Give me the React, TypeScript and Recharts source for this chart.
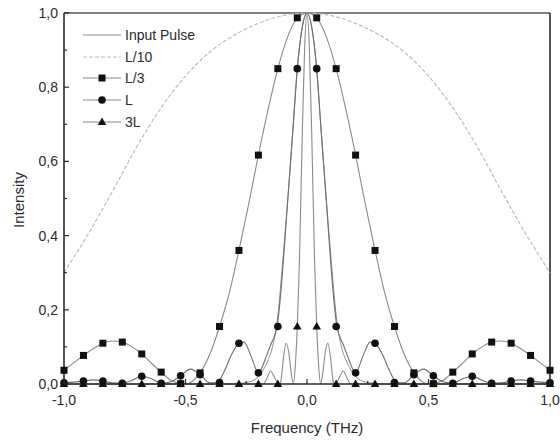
import { ComposedChart, Line, XAxis, YAxis, ReferenceLine } from 'recharts';

// axis ticks (major ones get labels)
const xTicks = [-1, -0.75, -0.5, -0.25, 0, 0.25, 0.5, 0.75, 1];
const yTicks = [0, 0.1, 0.2, 0.3, 0.4, 0.5, 0.6, 0.7, 0.8, 0.9, 1];

// marker positions (every 0.08 THz)
const markerFreq = [
  -1, -0.92, -0.84, -0.76, -0.68, -0.6, -0.52, -0.44, -0.36, -0.28, -0.2, -0.12, -0.04,
  0.04, 0.12, 0.2, 0.28, 0.36, 0.44, 0.52, 0.6, 0.68, 0.76, 0.84, 0.92, 1,
];
const thirdMarks = [
  0.037, 0.077, 0.11, 0.113, 0.081, 0.032, 0.001, 0.03, 0.155, 0.36, 0.617, 0.85, 0.987,
  0.987, 0.85, 0.617, 0.36, 0.155, 0.03, 0.001, 0.032, 0.081, 0.113, 0.11, 0.077, 0.037,
];
const lMarks = [
  0.003, 0.008, 0.008, 0.002, 0.021, 0.002, 0.022, 0.025, 0.004, 0.11, 0.03, 0.155, 0.85,
  0.85, 0.155, 0.03, 0.11, 0.004, 0.025, 0.022, 0.002, 0.021, 0.002, 0.008, 0.008, 0.003,
];
const tripleMarks = [
  0, 0, 0, 0, 0, 0, 0, 0, 0, 0, 0, 0, 0.155,
  0.155, 0, 0, 0, 0, 0, 0, 0, 0, 0, 0, 0, 0,
];

// Input Pulse
const pulseFreq = [
  -1, -0.5, -0.3, -0.26, -0.22, -0.2, -0.18, -0.16, -0.14, -0.12, -0.1, -0.08, -0.058, -0.04, -0.02,
  0, 0.02, 0.04, 0.058, 0.08, 0.1, 0.12, 0.14, 0.16, 0.18, 0.2, 0.22, 0.26, 0.3, 0.5, 1,
];
const pulseVals = [
  0, 0, 0, 0.003, 0.01, 0.02, 0.038, 0.065, 0.105, 0.185, 0.33, 0.49, 0.685, 0.845, 0.96,
  1, 0.96, 0.845, 0.685, 0.49, 0.33, 0.185, 0.105, 0.065, 0.038, 0.02, 0.01, 0.003, 0, 0, 0,
];

// L/10
const tenthFreq = [-1, -0.9, -0.8, -0.7, -0.6, -0.5, -0.4, -0.3, -0.2, -0.1, 0, 0.1, 0.2, 0.3, 0.4, 0.5, 0.6, 0.7, 0.8, 0.9, 1];
const tenthVals = [
  0.3, 0.405, 0.52, 0.64, 0.745, 0.83, 0.895, 0.94, 0.972, 0.993,
  1, 0.993, 0.972, 0.94, 0.895, 0.83, 0.745, 0.64, 0.52, 0.405, 0.3,
];

// L/3
const thirdFreq = [
  -1, -0.96, -0.92, -0.88, -0.84, -0.8, -0.76, -0.72, -0.68, -0.64, -0.6, -0.56, -0.52, -0.5, -0.47,
  -0.44, -0.4, -0.36, -0.32, -0.28, -0.24, -0.2, -0.16, -0.12, -0.08, -0.04,
  0, 0.04, 0.08, 0.12, 0.16, 0.2, 0.24, 0.28, 0.32, 0.36, 0.4, 0.44,
  0.47, 0.5, 0.52, 0.56, 0.6, 0.64, 0.68, 0.72, 0.76, 0.8, 0.84, 0.88, 0.92, 0.96, 1,
];
const thirdVals = [
  0.037, 0.057, 0.077, 0.095, 0.11, 0.116, 0.113, 0.1, 0.081, 0.056, 0.032, 0.01, 0.001, 0, 0.008,
  0.03, 0.08, 0.155, 0.245, 0.36, 0.485, 0.617, 0.74, 0.85, 0.935, 0.987,
  1, 0.987, 0.935, 0.85, 0.74, 0.617, 0.485, 0.36, 0.245, 0.155, 0.08, 0.03,
  0.008, 0, 0.001, 0.01, 0.032, 0.056, 0.081, 0.1, 0.113, 0.116, 0.11, 0.095, 0.077, 0.057, 0.037,
];

// L
const lFreq = [
  -1, -0.96, -0.92, -0.88, -0.84, -0.8, -0.76, -0.72, -0.68, -0.64, -0.6, -0.56, -0.52, -0.48, -0.44,
  -0.4, -0.37, -0.34, -0.31, -0.28, -0.26, -0.23, -0.2, -0.17, -0.15, -0.123, -0.11, -0.097, -0.08,
  -0.058, -0.04, -0.02,
  0, 0.02, 0.04, 0.058, 0.08, 0.097, 0.11, 0.123, 0.15, 0.17, 0.2, 0.23, 0.26, 0.28, 0.31, 0.34, 0.37,
  0.4, 0.44, 0.48, 0.52, 0.56, 0.6, 0.64, 0.68, 0.72, 0.76, 0.8, 0.84, 0.88, 0.92, 0.96, 1,
];
const lVals = [
  0.003, 0.005, 0.008, 0.011, 0.008, 0.003, 0.002, 0.01, 0.021, 0.014, 0.002, 0.006, 0.022, 0.04, 0.025,
  0.003, 0.004, 0.035, 0.08, 0.11, 0.113, 0.075, 0.03, 0.07, 0.105, 0.155, 0.23, 0.334, 0.49,
  0.685, 0.85, 0.96,
  1, 0.96, 0.85, 0.685, 0.49, 0.334, 0.23, 0.155, 0.105, 0.07, 0.03, 0.075, 0.113, 0.11, 0.08, 0.035, 0.004,
  0.003, 0.025, 0.04, 0.022, 0.006, 0.002, 0.014, 0.021, 0.01, 0.002, 0.003, 0.008, 0.011, 0.008, 0.005, 0.003,
];

// 3L
const tripleFreq = [
  -1, -0.2, -0.18, -0.165, -0.15, -0.135, -0.12, -0.11, -0.105, -0.097, -0.086, -0.075, -0.065, -0.056,
  -0.048, -0.04, -0.031, -0.02, -0.01,
  0, 0.01, 0.02, 0.031, 0.04, 0.048, 0.056, 0.065, 0.075, 0.086, 0.097, 0.105, 0.11, 0.12, 0.135,
  0.15, 0.165, 0.18, 0.2, 1,
];
const tripleVals = [
  0, 0, 0, 0.015, 0.035, 0.02, 0.002, 0, 0.02, 0.07, 0.11, 0.085, 0.03, 0,
  0.05, 0.155, 0.334, 0.66, 0.9,
  1, 0.9, 0.66, 0.334, 0.155, 0.05, 0, 0.03, 0.085, 0.11, 0.07, 0.02, 0, 0.002, 0.02,
  0.035, 0.015, 0, 0, 0,
];

const pts = (xs: number[], ys: number[]) => xs.map((x, i) => ({ x, y: ys[i] }));

const FONT = '"Liberation Sans", Arial, sans-serif';
const INK = '#2b2b2b';
const fmt = (v: number) => v.toFixed(1).replace('.', ',');

const squareDot = (p: any) => (
  <rect key={`sq-${p.index}`} x={p.cx - 3.5} y={p.cy - 3.5} width={7} height={7} fill="#111" />
);
const circleDot = (p: any) => <circle key={`ci-${p.index}`} cx={p.cx} cy={p.cy} r={3.8} fill="#111" />;
const triangleDot = (p: any) => (
  <path
    key={`tr-${p.index}`}
    d={`M${p.cx},${p.cy - 4.5} L${p.cx + 4.3},${p.cy + 3} L${p.cx - 4.3},${p.cy + 3} Z`}
    fill="#111"
  />
);

function YTick({ x, y, payload }: any) {
  const v = payload.value as number;
  const major = Math.round(v * 10) % 2 === 0;
  const ax = x + 6;
  return (
    <g>
      <line x1={ax} x2={ax + (major ? 5 : 3)} y1={y} y2={y} stroke={INK} strokeWidth={1.2} />
      {major && (
        <text x={x} y={y + 5} textAnchor="end" fontSize={14} fontFamily={FONT} fill={INK}>
          {fmt(v)}
        </text>
      )}
    </g>
  );
}

function XTick({ x, y, payload }: any) {
  const v = payload.value as number;
  const major = Math.round(v * 4) % 2 === 0;
  const ay = y - 8;
  return (
    <g>
      <line x1={x} x2={x} y1={ay} y2={ay - (major ? 5 : 3)} stroke={INK} strokeWidth={1.2} />
      {major && (
        <text x={x} y={ay + 21} textAnchor="middle" fontSize={14} fontFamily={FONT} fill={INK}>
          {fmt(v)}
        </text>
      )}
    </g>
  );
}

const legendItems = [
  { name: 'Input Pulse', stroke: '#8a8a8a', dash: undefined, mark: null },
  { name: 'L/10', stroke: '#bdbdbd', dash: '4 2', mark: null },
  { name: 'L/3', stroke: '#8a8a8a', dash: undefined, mark: 'square' },
  { name: 'L', stroke: '#8a8a8a', dash: undefined, mark: 'circle' },
  { name: '3L', stroke: '#8a8a8a', dash: undefined, mark: 'triangle' },
];

function LegendBox() {
  return (
    <div style={{ position: 'absolute', left: 82, top: 24 }}>
      {legendItems.map((it) => (
        <div key={it.name} style={{ display: 'flex', alignItems: 'center', height: 21.8 }}>
          <svg width={42} height={12}>
            <line x1={1} x2={39} y1={6} y2={6} stroke={it.stroke} strokeWidth={1.2} strokeDasharray={it.dash} />
            {it.mark === 'square' && <rect x={16.5} y={2.5} width={7} height={7} fill="#111" />}
            {it.mark === 'circle' && <circle cx={20} cy={6} r={3.8} fill="#111" />}
            {it.mark === 'triangle' && <path d="M20,1.5 L24.3,9 L15.7,9 Z" fill="#111" />}
          </svg>
          <span style={{ fontFamily: FONT, fontSize: 14, color: INK, marginLeft: 1 }}>{it.name}</span>
        </div>
      ))}
    </div>
  );
}

export default function App() {
  return (
    <div style={{ position: 'absolute', left: 0, top: 0, width: 560, height: 441, background: '#fff' }}>
      <ComposedChart width={560} height={441} margin={{ top: 13, right: 10, bottom: 17, left: 14 }}>
        <XAxis
          dataKey="x"
          type="number"
          domain={[-1, 1]}
          ticks={xTicks}
          interval={0}
          height={40}
          tickSize={0}
          tickMargin={8}
          tick={<XTick />}
          axisLine={{ stroke: INK, strokeWidth: 1.6 }}
        />
        <YAxis
          type="number"
          domain={[0, 1]}
          ticks={yTicks}
          interval={0}
          width={50}
          tickSize={0}
          tickMargin={6}
          tick={<YTick />}
          axisLine={{ stroke: INK, strokeWidth: 1.6 }}
        />
        <ReferenceLine y={1} stroke="#555" strokeWidth={1.6} />
        <ReferenceLine x={1} stroke={INK} strokeWidth={1.6} />
        <Line data={pts(pulseFreq, pulseVals)} dataKey="y" type="monotone" stroke="#8f8f8f" strokeWidth={1} dot={false} activeDot={false} isAnimationActive={false} />
        <Line data={pts(tenthFreq, tenthVals)} dataKey="y" type="monotone" stroke="#bdbdbd" strokeWidth={1.2} strokeDasharray="4 2" dot={false} activeDot={false} isAnimationActive={false} />
        <Line data={pts(thirdFreq, thirdVals)} dataKey="y" type="monotone" stroke="#8a8a8a" strokeWidth={1.1} dot={false} activeDot={false} isAnimationActive={false} />
        <Line data={pts(lFreq, lVals)} dataKey="y" type="monotone" stroke="#6e6e6e" strokeWidth={1.1} dot={false} activeDot={false} isAnimationActive={false} />
        <Line data={pts(tripleFreq, tripleVals)} dataKey="y" type="monotone" stroke="#8a8a8a" strokeWidth={1.1} dot={false} activeDot={false} isAnimationActive={false} />
        <Line data={pts(markerFreq, thirdMarks)} dataKey="y" stroke="none" dot={squareDot} activeDot={false} isAnimationActive={false} />
        <Line data={pts(markerFreq, lMarks)} dataKey="y" stroke="none" dot={circleDot} activeDot={false} isAnimationActive={false} />
        <Line data={pts(markerFreq, tripleMarks)} dataKey="y" stroke="none" dot={triangleDot} activeDot={false} isAnimationActive={false} />
      </ComposedChart>
      <LegendBox />
      <div
        style={{
          position: 'absolute',
          left: 18,
          top: 200,
          transform: 'translate(-50%, -50%) rotate(-90deg)',
          fontFamily: FONT,
          fontSize: 15,
          color: INK,
          whiteSpace: 'nowrap',
        }}
      >
        Intensity
      </div>
      <div
        style={{
          position: 'absolute',
          left: 307,
          top: 427,
          transform: 'translate(-50%, -50%)',
          fontFamily: FONT,
          fontSize: 15,
          color: INK,
          whiteSpace: 'nowrap',
        }}
      >
        Frequency (THz)
      </div>
    </div>
  );
}
